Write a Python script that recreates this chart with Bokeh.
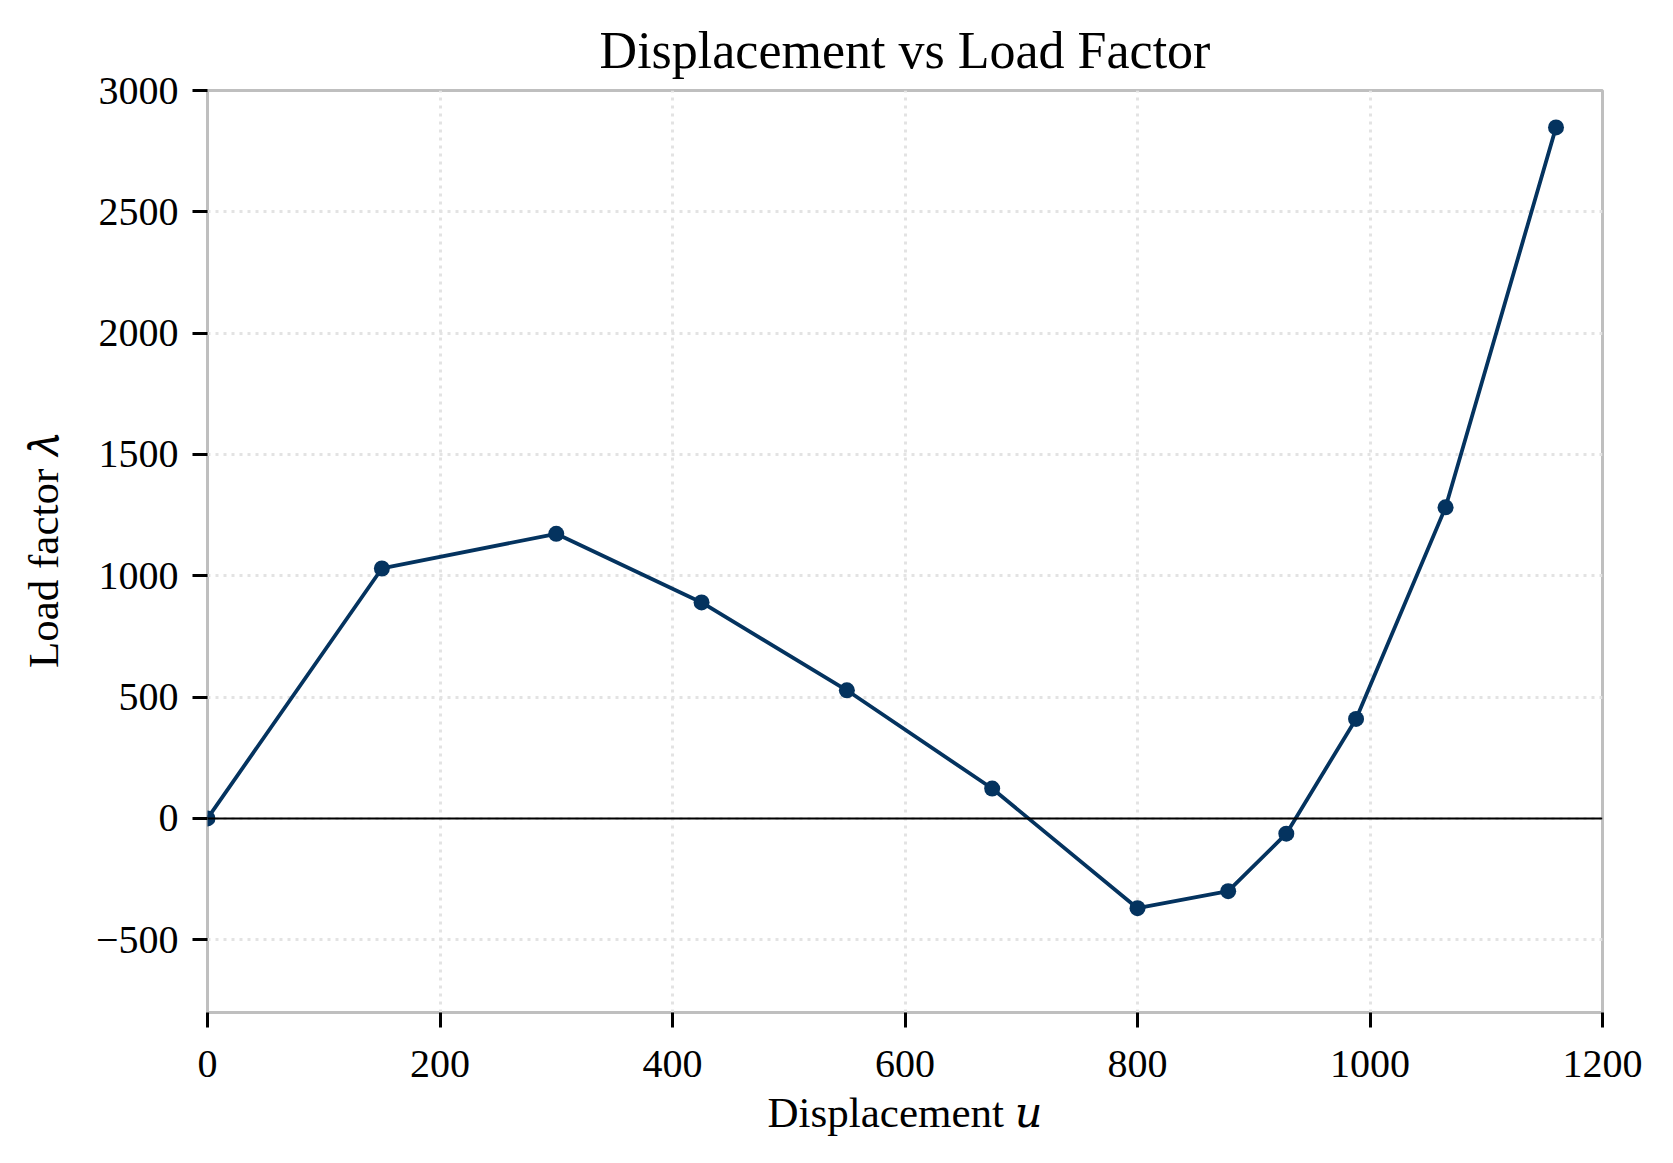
from bokeh.plotting import figure
from bokeh.models import Range1d, FixedTicker, Span, CustomJSTickFormatter, ColumnDataSource
from bokeh.embed import file_html
from bokeh.resources import INLINE

# Load-displacement path (displacement u, load factor lambda)
displacement = [0, 150, 300, 425, 550, 675, 800, 878, 928, 988, 1065, 1160]
load_factor = [0, 1030, 1173, 890, 528, 123, -370, -300, -63, 410, 1282, 2848]

x_ticks = [0, 200, 400, 600, 800, 1000, 1200]
y_ticks = [-500, 0, 500, 1000, 1500, 2000, 2500, 3000]

title_text = "Displacement vs Load Factor"
xlabel_text = "Displacement \U0001D462"
ylabel_text = "Load factor \U0001D706"

SERIF = "Liberation Serif"
LABEL_FONT = "Liberation Serif, DejaVu Serif"
NAVY = "#04335f"

W, H = 1673, 1163

p = figure(width=W, height=H, output_backend="svg", toolbar_location=None,
           x_range=Range1d(0, 1200), y_range=Range1d(-800, 3000),
           min_border_left=207, min_border_right=71,
           min_border_top=90, min_border_bottom=151)
p.background_fill_color = "white"
p.border_fill_color = "white"
p.outline_line_color = "#bfbfbf"
p.outline_line_width = 3

p.title.text = title_text
p.title.align = "center"
p.title.text_font = SERIF
p.title.text_font_size = "52px"
p.title.text_font_style = "normal"
p.title.text_color = "black"
p.title.standoff = 24

fmt = CustomJSTickFormatter(code="""
    return tick < 0 ? "\\u2212" + Math.abs(tick) : String(tick);
""")

for ax, ticks in ((p.xaxis[0], x_ticks), (p.yaxis[0], y_ticks)):
    ax.ticker = FixedTicker(ticks=ticks)
    ax.formatter = fmt
    ax.axis_line_color = None
    ax.major_tick_in = 0
    ax.major_tick_out = 15
    ax.major_tick_line_width = 3
    ax.major_tick_line_color = "black"
    ax.minor_tick_line_color = None
    ax.major_label_text_font = SERIF
    ax.major_label_text_font_size = "40px"
    ax.major_label_text_color = "black"
    ax.major_label_standoff = 14
    ax.axis_label_text_font = LABEL_FONT
    ax.axis_label_text_font_size = "43px"
    ax.axis_label_text_font_style = "normal"
    ax.axis_label_text_color = "black"

p.xaxis[0].major_label_standoff = 23
p.xaxis[0].axis_label = xlabel_text
p.xaxis[0].axis_label_standoff = 9
p.yaxis[0].axis_label = ylabel_text
p.yaxis[0].axis_label_standoff = 26

for g in (p.xgrid[0], p.ygrid[0]):
    g.grid_line_color = "#e3e3e3"
    g.grid_line_width = 3
    g.grid_line_dash = "3 5"

p.add_layout(Span(location=0, dimension="width", line_color="black", line_width=2))

src = ColumnDataSource(dict(u=displacement, lam=load_factor))
p.line("u", "lam", source=src, line_color=NAVY, line_width=3.8)
p.scatter("u", "lam", source=src, size=16, fill_color=NAVY, line_color=None)

open("out.html", "w").write(file_html(p, INLINE))
